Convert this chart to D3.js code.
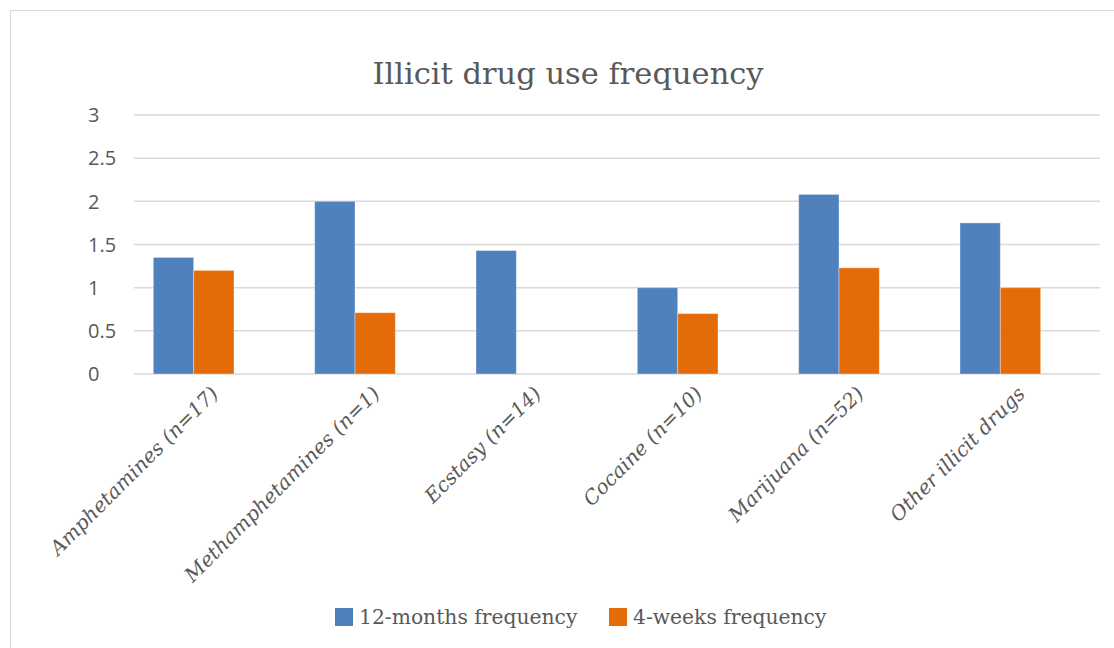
<!DOCTYPE html>
<html lang="en">
<head>
    <meta charset="UTF-8">
    <title>Illicit drug use frequency</title>
    <script src="https://d3js.org/d3.v7.min.js"></script>
    <style>
        body {
            margin: 0;
            background: #ffffff;
        }
        svg text {
            fill: #595959;
        }
        .title {
            font-family: 'DejaVu Serif', serif;
            font-size: 30.5px;
        }
        .ytick {
            font-family: 'Open Sans', sans-serif;
            font-size: 20px;
        }
        .xlabel {
            font-family: 'DejaVu Serif', serif;
            font-style: italic;
            font-size: 20px;
        }
        .legend {
            font-family: 'DejaVu Serif', serif;
            font-size: 20.3px;
        }
    </style>
</head>
<body>
    <div id="chart"></div>

    <script>
        const categories = ["Amphetamines (n=17)", "Methamphetamines (n=1)", "Ecstasy (n=14)",
            "Cocaine (n=10)", "Marijuana (n=52)", "Other illicit drugs"];
        const seriesNames = ["12-months frequency", "4-weeks frequency"];
        const twelveMonths = [1.35, 2.0, 1.43, 1.0, 2.08, 1.75];
        const fourWeeks = [1.2, 0.71, null, 0.7, 1.23, 1.0];
        const yTicks = [0, 0.5, 1, 1.5, 2, 2.5, 3];
        const colors = ["#4F81BD", "#E36C09"];

        const width = 1114;
        const height = 648;

        const svg = d3.select("#chart")
            .append("svg")
            .attr("width", width)
            .attr("height", height);

        // chart frame
        svg.append("rect")
            .attr("x", 10.5)
            .attr("y", 10.5)
            .attr("width", width + 20)
            .attr("height", height + 20)
            .attr("fill", "none")
            .attr("stroke", "#d9d9d9");

        svg.append("text")
            .attr("class", "title")
            .attr("x", 568)
            .attr("y", 84)
            .attr("text-anchor", "middle")
            .text("Illicit drug use frequency");

        const y = d3.scaleLinear().domain([0, 3]).range([374, 115]);

        const x0 = d3.scaleBand()
            .domain(categories)
            .range([113, 1081])
            .paddingInner(0.5)
            .paddingOuter(0.25);

        const x1 = d3.scaleBand()
            .domain(seriesNames)
            .range([0, x0.bandwidth()]);

        // gridlines
        svg.append("g")
            .selectAll("line")
            .data(yTicks)
            .enter()
            .append("line")
            .attr("x1", 134)
            .attr("x2", 1100)
            .attr("y1", d => y(d))
            .attr("y2", d => y(d))
            .attr("stroke", "#d9d9d9")
            .attr("stroke-width", 1.5);

        svg.append("g")
            .selectAll("text")
            .data(yTicks)
            .enter()
            .append("text")
            .attr("class", "ytick")
            .attr("x", 88)
            .attr("y", d => y(d))
            .attr("dy", "0.36em")
            .text(d => d);

        const rows = categories.map((c, i) => ({
            category: c,
            values: [twelveMonths[i], fourWeeks[i]]
        }));

        const groups = svg.append("g")
            .selectAll("g")
            .data(rows)
            .enter()
            .append("g")
            .attr("transform", d => `translate(${x0(d.category)},0)`);

        groups.selectAll("rect")
            .data(d => d.values.map((v, k) => ({key: seriesNames[k], value: v, k}))
                .filter(e => e.value != null))
            .enter()
            .append("rect")
            .attr("x", d => x1(d.key))
            .attr("width", x1.bandwidth())
            .attr("y", d => y(d.value))
            .attr("height", d => y(0) - y(d.value))
            .attr("fill", d => colors[d.k])
            .attr("stroke", "#ffffff")
            .attr("stroke-opacity", 0.35)
            .attr("stroke-width", 1);

        // rotated category labels
        svg.append("g")
            .selectAll("text")
            .data(categories)
            .enter()
            .append("text")
            .attr("class", "xlabel")
            .attr("text-anchor", "end")
            .attr("transform", d => `translate(${x0(d) + x0.bandwidth() / 2 + 21},${390}) rotate(-45)`)
            .attr("dy", "0.35em")
            .text(d => d);

        // legend
        const legendX = [335, 609];
        const legend = svg.append("g")
            .selectAll("g")
            .data(seriesNames)
            .enter()
            .append("g")
            .attr("transform", (d, i) => `translate(${legendX[i]},608)`);

        legend.append("rect")
            .attr("width", 18)
            .attr("height", 18)
            .attr("fill", (d, i) => colors[i]);

        legend.append("text")
            .attr("class", "legend")
            .attr("x", 24)
            .attr("y", 16)
            .text(d => d);
    </script>
</body>
</html>
